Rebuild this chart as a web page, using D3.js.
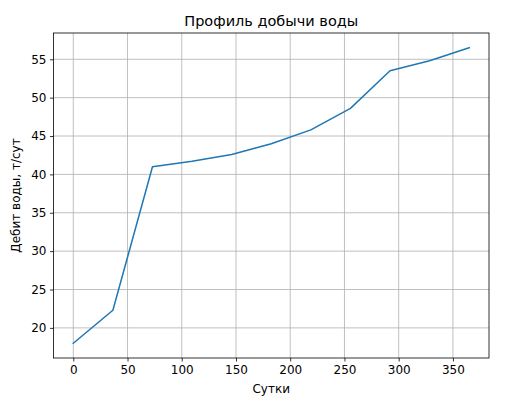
<!DOCTYPE html>
<html><head><meta charset="utf-8">
<script src="https://cdn.jsdelivr.net/npm/d3@7"></script>
<style>body{margin:0;background:#fff}svg{display:block}text{font-family:"DejaVu Sans",sans-serif;fill:#000}</style>
</head><body><svg id="c" width="508" height="404"></svg>
<script>
const days = [0, 36.5, 73, 109.5, 146, 182.5, 219, 255.5, 292, 328.5, 365];
const rates = [18.0, 22.3, 41.0, 41.7, 42.6, 44.0, 45.8, 48.6, 53.5, 54.8, 56.5];
const xTicks = [0, 50, 100, 150, 200, 250, 300, 350];
const yTicks = [20, 25, 30, 35, 40, 45, 50, 55];
const title = "Профиль добычи воды";
const xLabel = "Сутки";
const yLabel = "Дебит воды, т/сут";

const L = 53.5, R = 489, T = 33, B = 358;
const svg = d3.select("#c");
const xr = d3.extent(days), yr = d3.extent(rates);
const xm = (xr[1]-xr[0])*0.05, ym = (yr[1]-yr[0])*0.05;
const x = d3.scaleLinear().domain([xr[0]-xm, xr[1]+xm]).range([L, R]);
const y = d3.scaleLinear().domain([yr[0]-ym, yr[1]+ym]).range([B, T]);

// grid
const g = svg.append("g");
g.selectAll("line.gx").data(xTicks).join("line")
  .attr("x1", d => x(d)).attr("x2", d => x(d)).attr("y1", T).attr("y2", B)
  .attr("stroke", "#b0b0b0").attr("stroke-width", 0.8);
g.selectAll("line.gy").data(yTicks).join("line")
  .attr("y1", d => y(d)).attr("y2", d => y(d)).attr("x1", L).attr("x2", R)
  .attr("stroke", "#b0b0b0").attr("stroke-width", 0.8);

// line
svg.append("path").datum(days.map((d, i) => [d, rates[i]]))
  .attr("fill", "none").attr("stroke", "#1f77b4").attr("stroke-width", 1.5)
  .attr("stroke-linejoin", "round").attr("stroke-linecap", "square")
  .attr("d", d3.line().x(d => x(d[0])).y(d => y(d[1])));

// axes
const xa = svg.append("g").attr("transform", `translate(0,${B})`)
  .call(d3.axisBottom(x).tickValues(xTicks).tickSize(3.5).tickPadding(3.5).tickFormat(d3.format("d")));
const ya = svg.append("g").attr("transform", `translate(${L},0)`)
  .call(d3.axisLeft(y).tickValues(yTicks).tickSize(3.5).tickPadding(3.5).tickFormat(d3.format("d")));
[xa, ya].forEach(a => {
  a.select(".domain").remove();
  a.selectAll("text").attr("font-size", 12).attr("font-family", "DejaVu Sans").attr("fill", "#000");
  a.selectAll(".tick line").attr("stroke", "#000").attr("stroke-width", 0.8);
});

// frame
svg.append("rect").attr("x", L).attr("y", T).attr("width", R-L).attr("height", B-T)
  .attr("fill", "none").attr("stroke", "#000").attr("stroke-width", 0.8);

svg.append("text").attr("x", (L+R)/2).attr("y", 26).attr("text-anchor", "middle")
  .attr("font-size", 14.5).text(title);
svg.append("text").attr("x", (L+R)/2).attr("y", 393).attr("text-anchor", "middle")
  .attr("font-size", 12).text(xLabel);
svg.append("text").attr("transform", `translate(20,${(T+B)/2}) rotate(-90)`)
  .attr("text-anchor", "middle").attr("font-size", 12).text(yLabel);
</script></body></html>
